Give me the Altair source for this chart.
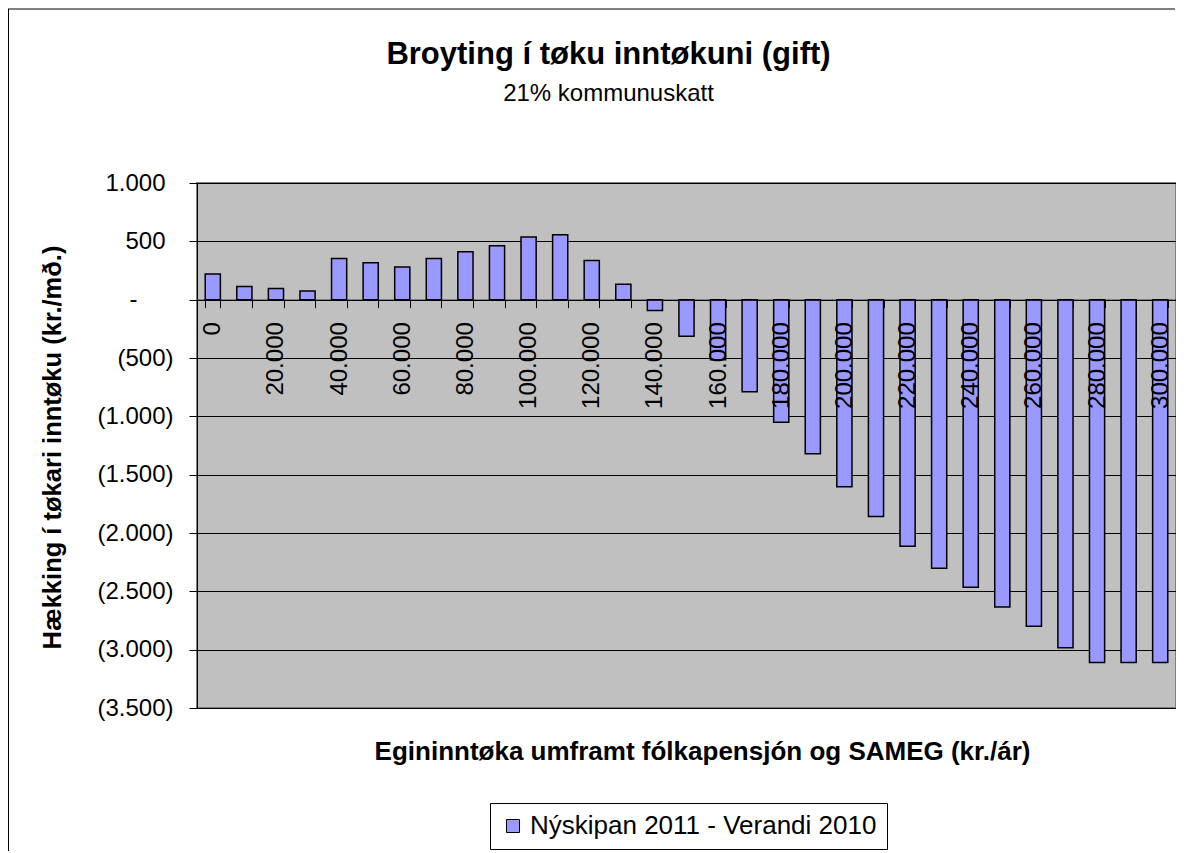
import altair as alt
import pandas as pd

# ---- data ----
income = [0, 10000, 20000, 30000, 40000, 50000, 60000, 70000, 80000, 90000,
          100000, 110000, 120000, 130000, 140000, 150000, 160000, 170000, 180000, 190000,
          200000, 210000, 220000, 230000, 240000, 250000, 260000, 270000, 280000, 290000, 300000]
change = [221, 112, 95, 75, 353, 316, 279, 353, 411, 463,
          537, 557, 336, 132, -92, -313, -515, -790, -1050, -1320,
          -1603, -1858, -2113, -2302, -2465, -2634, -2800, -2983, -3110, -3110, -3110]
series_name = "Nýskipan 2011 - Verandi 2010"
y_ticks = [1000, 500, 0, -500, -1000, -1500, -2000, -2500, -3000, -3500]

title_text = "Broyting í tøku inntøkuni (gift)"
subtitle_text = "21% kommunuskatt"
x_title = "Egininntøka umframt fólkapensjón og SAMEG (kr./ár)"
y_title = "Hækking í tøkari inntøku (kr./mð.)"

FONT = "Liberation Sans, Arial, sans-serif"
BAR_COLOR = "#9999FF"

df = pd.DataFrame({"inntoka": income, "broyting": change,
                   "rad": [series_name] * len(income)})

x_label_expr = ("datum.value % 20000 === 0 ? "
                "replace(format(datum.value, ','), ',', '.') : ''")
y_label_expr = ("datum.value > 0 ? replace(format(datum.value, ','), ',', '.') : "
                "(datum.value < 0 ? '(' + replace(format(-datum.value, ','), ',', '.') + ')' : '-')")

bars = alt.Chart(df).mark_bar(stroke="black", strokeWidth=1.5).encode(
    x=alt.X("inntoka:O",
            scale=alt.Scale(paddingInner=0.52, paddingOuter=0.26),
            axis=alt.Axis(
                title=x_title, offset=-408.33, zindex=1,
                domainColor="black", domainWidth=1,
                tickColor="black", tickSize=8, tickBand="extent",
                labelAngle=270, labelAlign="right", labelBaseline="middle",
                labelPadding=14, labelFontSize=24, labelFont=FONT, labelColor="black",
                labelExpr=x_label_expr, labelOverlap=False,
                titleFont=FONT, titleFontSize=26, titleFontWeight="bold", titleColor="black",
                titleX=505, titleY=460, titleAlign="center", titleBaseline="alphabetic")),
    y=alt.Y("broyting:Q",
            scale=alt.Scale(domain=[-3500, 1000], nice=False, zero=False),
            axis=alt.Axis(
                values=y_ticks, zindex=0,
                domainColor="black", domainWidth=1,
                tickColor="black", tickSize=8,
                grid=True, gridColor="black", gridWidth=1,
                labelPadding={"condition": [{"test": "datum.value > 0", "value": 24},
                                            {"test": "datum.value === 0", "value": 52}],
                              "value": 16},
                labelFontSize=24, labelFont=FONT, labelColor="black",
                labelExpr=y_label_expr,
                title=y_title, titleFont=FONT, titleFontSize=25.5, titleFontWeight="bold",
                titleColor="black", titleAngle=270, titleX=-137, titleY=264,
                titleAlign="center", titleBaseline="alphabetic")),
    color=alt.Color("rad:N", scale=alt.Scale(range=[BAR_COLOR]),
                    legend=alt.Legend(
                        title=None, orient="none", legendX=293, legendY=620,
                        direction="horizontal", strokeColor="black", fillColor="white",
                        padding=10, symbolType="square", symbolSize=169,
                        symbolStrokeColor="black", symbolStrokeWidth=1, symbolOpacity=1,
                        labelFont=FONT, labelFontSize=26, labelColor="black",
                        labelLimit=800)),
)

# outer chart frame: only its left and top edges fall inside the picture
frame_df = pd.DataFrame({"k": [0]})
frame_left = alt.Chart(frame_df).mark_rule(color="black", strokeWidth=1).encode(
    x=alt.value(-188.5), y=alt.value(-174), y2=alt.value(668))
frame_top = alt.Chart(frame_df).mark_rule(color="black", strokeWidth=1).encode(
    x=alt.value(-189), x2=alt.value(978), y=alt.value(-174))

chart = alt.layer(frame_left, frame_top, bars).properties(
    width=979, height=525,
    padding={"left": 189, "top": 175, "right": 0, "bottom": 145},
    autosize=alt.AutoSizeParams(type="none"),
    title=alt.Title(title_text, subtitle=subtitle_text,
                    font=FONT, fontSize=31, fontWeight="bold", color="black",
                    subtitleFont=FONT, subtitleFontSize=24, subtitleColor="black",
                    subtitlePadding=10.7, anchor="middle", dx=-78, offset=-98),
).configure_view(fill="#C0C0C0", stroke="#808080", strokeWidth=2)

chart.save("out.html", embed_options={"renderer": "svg", "actions": False})
